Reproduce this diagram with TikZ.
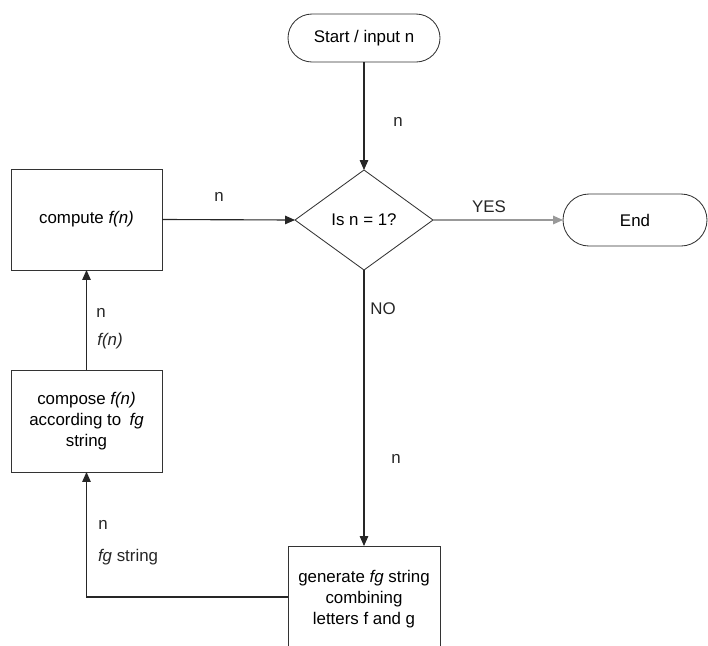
\documentclass[tikz,border=0pt]{standalone}
\usepackage{fontspec}
\setmainfont{Liberation Sans}
\usetikzlibrary{shapes.geometric,shapes.misc,arrows.meta}
\begin{document}
\begin{tikzpicture}[x=0.025cm,y=-0.025cm,
  font=\fontsize{12}{15}\selectfont,
  every node/.style={inner sep=0pt,outer sep=0pt},
  term/.style={draw=black!80,line width=0.6pt,rounded rectangle,minimum width=152*0.025cm,minimum height=48*0.025cm},
  procbox/.style={draw=black!80,line width=0.6pt,rectangle,align=center},
  decide/.style={draw=black!80,line width=0.6pt,diamond,minimum width=138*0.025cm,minimum height=100*0.025cm},
  flow/.style={draw=black!85,line width=0.8pt,-{Triangle[length=7pt,width=6pt]}},
  lbl/.style={text=black!85}
]
\useasboundingbox (0,0) rectangle (708,645);
\clip (0,0) rectangle (708,645);
\node[term] (start) at (364,38) {Start / input n};
\node[decide] (dec) at (364,220) {};
\node at (364,220) {Is n = 1?};
\node[term,minimum width=144*0.025cm,minimum height=52*0.025cm] (end) at (635,220) {End};
\node[procbox,minimum width=151*0.025cm,minimum height=101*0.025cm] (comp) at (86.5,219.5) {compute \textit{f(n)}};
\node[procbox,minimum width=151*0.025cm,minimum height=102*0.025cm] (compo) at (86.5,421) {compose \textit{f(n)}\\according to\enspace\textit{fg}\\string};
\node[procbox,minimum width=152*0.025cm,minimum height=120*0.025cm,anchor=north] (gen) at (364,546) {};
\node[align=center] at (364,599) {generate \textit{fg} string\\combining\\letters f and g};
\coordinate (corner) at (86.5,597);
\coordinate (genleft) at (288,597);

\draw[flow] (start.south) -- (dec.north);
\draw[flow] (comp.east) -- (dec.west);
\draw[draw=black!40,line width=1pt,-{Triangle[length=7pt,width=6pt]}] (dec.east) -- (end.west);
\draw[flow] (dec.south) -- (gen.north);
\draw[flow] (compo.north) -- (comp.south);
\draw[flow] (genleft) -- (corner) -- (compo.south);

\node[lbl] at (398,122) {n};
\node[lbl] at (219,197) {n};
\node[lbl] at (489,207) {YES};
\node[lbl] at (383,309) {NO};
\node[lbl] at (396,459) {n};
\node[lbl] at (101,313) {n};
\node[lbl] at (110,341) {\textit{f(n)}};
\node[lbl] at (103,525) {n};
\node[lbl,anchor=west] at (98,557) {\textit{fg} string};
\end{tikzpicture}
\end{document}
